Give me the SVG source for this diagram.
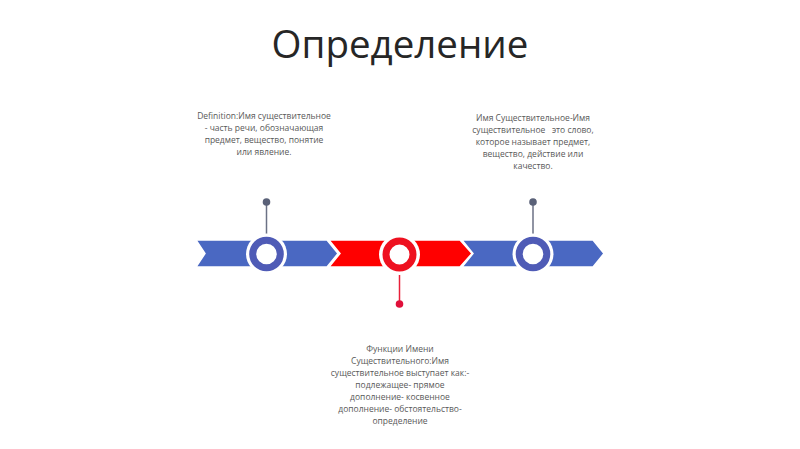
<svg xmlns="http://www.w3.org/2000/svg" width="800" height="449" viewBox="0 0 800 449">
<style>
.t{font-family:"Open Sans","Liberation Sans",sans-serif;font-size:8.5px;fill:#595959;text-anchor:middle;white-space:pre}
.title{font-family:"Open Sans","Liberation Sans",sans-serif;font-size:38.5px;fill:#262626;text-anchor:middle}
.blue{fill:#4a68c2;stroke:#fff;stroke-width:1.5}
.red{fill:#ff0000;stroke:#fff;stroke-width:1.5}
.halo{fill:#fff}
.ringB{fill:#fff;stroke:#4f5bb6;stroke-width:7}
.ringR{fill:#fff;stroke:#ee1120;stroke-width:7}
.pinB{stroke:#6b7185;stroke-width:1.5}
.pinR{stroke:#e8203a;stroke-width:1.5}
</style>
<rect width="800" height="449" fill="#fff"/>
<text class="title" x="400" y="58">Определение</text>
<g id="band">
<polygon id="seg1" class="blue" points="196,240 327,240 338,253.5 327,267 196,267 205,253.5"/>
<polygon id="seg2" class="red" points="329,240 460,240 472,253.5 460,267 329,267 340,253.5"/>
<polygon id="seg3" class="blue" points="462,240 593,240 604,253.5 593,267 462,267 473,253.5"/>
</g>
<g id="connectors">
<line class="pinB" x1="266.5" y1="202" x2="266.5" y2="237"/>
<circle cx="266.5" cy="202" r="3.8" fill="#5a6178"/>
<line class="pinR" x1="399.5" y1="271" x2="399.5" y2="304"/>
<circle cx="399.5" cy="304" r="3.8" fill="#e0103a"/>
<line class="pinB" x1="533" y1="202" x2="533" y2="237"/>
<circle cx="533" cy="202" r="3.8" fill="#5a6178"/>
</g>
<g id="node1">
<circle class="halo" cx="266.5" cy="254" r="20.5"/>
<circle class="ringB" cx="266.5" cy="254" r="13.8"/>
<text class="t" x="264" y="118.5">Definition:Имя существительное</text>
<text class="t" x="264" y="130.8">- часть речи, обозначающая</text>
<text class="t" x="264" y="143">предмет, вещество, понятие</text>
<text class="t" x="264" y="155.3">или явление.</text>
</g>
<g id="node2">
<circle class="halo" cx="399.5" cy="254.5" r="20.5"/>
<circle class="ringR" cx="399.5" cy="254.5" r="13.5"/>
<text class="t" x="400" y="352">Функции Имени</text>
<text class="t" x="400" y="364">Существительного:Имя</text>
<text class="t" x="400" y="376">существительное выступает как:-</text>
<text class="t" x="400" y="388">подлежащее- прямое</text>
<text class="t" x="400" y="400">дополнение- косвенное</text>
<text class="t" x="400" y="412">дополнение- обстоятельство-</text>
<text class="t" x="400" y="424">определение</text>
</g>
<g id="node3">
<circle class="halo" cx="533" cy="254" r="20.5"/>
<circle class="ringB" cx="533" cy="254" r="13.8"/>
<text class="t" x="533" y="121">Имя Существительное-Имя</text>
<text class="t" x="533" y="133">существительное   это слово,</text>
<text class="t" x="533" y="145">которое называет предмет,</text>
<text class="t" x="533" y="157">вещество, действие или</text>
<text class="t" x="533" y="169">качество.</text>
</g>
</svg>
